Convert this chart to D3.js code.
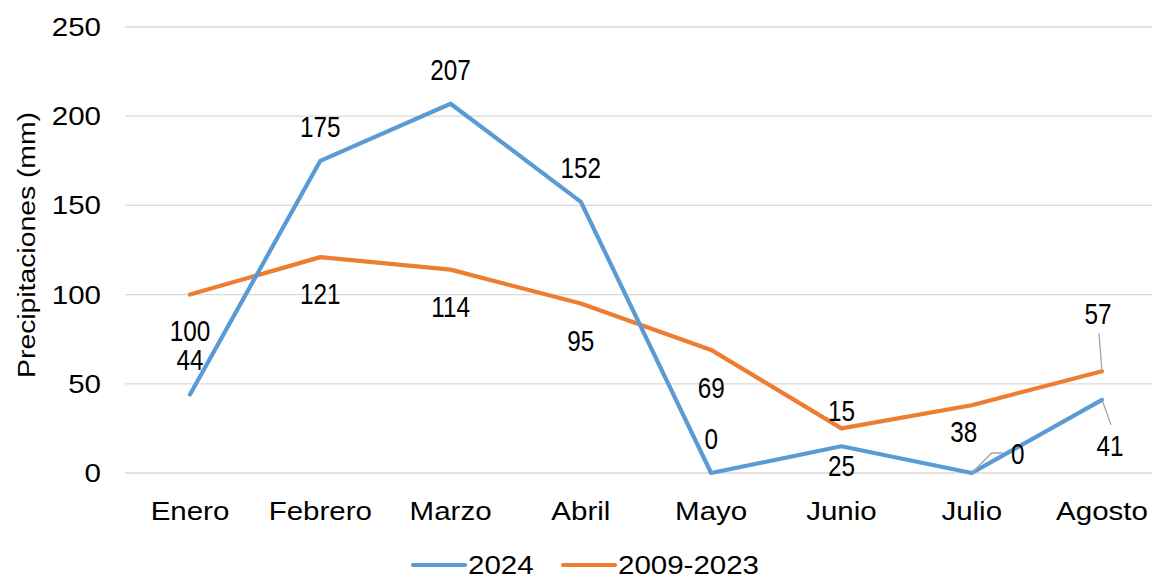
<!DOCTYPE html>
<html><head><meta charset="utf-8">
<script src="https://cdn.jsdelivr.net/npm/d3@7"></script>
<style>body{margin:0;background:#fff}svg{display:block}</style>
</head><body><svg id="c" width="1152" height="575"></svg>
<script>
const months = ["Enero","Febrero","Marzo","Abril","Mayo","Junio","Julio","Agosto"];
const rain2024 = [44,175,207,152,0,15,0,41];
const rainAvg = [100,121,114,95,69,25,38,57];
const yTicks = [0,50,100,150,200,250];
const seriesNames = ["2024","2009-2023"];

// label layout (dx, dy from point; third item = leader line)
const lab2024 = [[0,-35],[0,-35],[0,-35],[0,-35],[0,-35],[0,-36],[46,-20,1],[8,45,1]];
const labAvg  = [[0,36],[0,36],[0,36.5],[0,37],[0,37],[0,37],[-8,26],[-4,-58,1]];

const svg = d3.select("#c");
const x = d3.scalePoint().domain(months).range([190,1102]);
const y = d3.scaleLinear().domain([0,250]).range([473,27]);
const gridX0 = 125, gridX1 = 1152;
const font = "'Liberation Sans', Arial, sans-serif";

// text helper: stretched text like the reference
function txt(g, px, py, s, opt){
  const o = Object.assign({size:25, sx:1.18, anchor:"middle", rot:0}, opt||{});
  return g.append("text")
    .attr("transform",`translate(${px},${py}) rotate(${o.rot}) scale(${o.sx},1)`)
    .attr("dy","0.36em").attr("text-anchor",o.anchor)
    .attr("font-family",font).attr("font-size",o.size).attr("fill","#000").text(s);
}

svg.append("g").selectAll("line").data(yTicks).join("line")
  .attr("x1",gridX0).attr("x2",gridX1).attr("y1",d=>y(d)).attr("y2",d=>y(d))
  .attr("stroke","#d9d9d9").attr("stroke-width",1.3);
const gy = svg.append("g");
yTicks.forEach(d=>txt(gy,101,y(d),d,{anchor:"end"}));
const gx = svg.append("g");
months.forEach(m=>txt(gx,x(m),511,m));
txt(svg,26,245,"Precipitaciones (mm)",{size:24,sx:1.18,rot:-90});

const colors = ["#5B9BD5","#ED7D31"];
const line = d3.line().x((d,i)=>x(months[i])).y(d=>y(d));
[[rainAvg,colors[1]],[rain2024,colors[0]]].forEach(([s,c])=>{
  svg.append("path").datum(s).attr("d",line).attr("fill","none")
    .attr("stroke",c).attr("stroke-width",4.2)
    .attr("stroke-linejoin","round").attr("stroke-linecap","round");
});

function labels(s, lay){
  s.forEach((v,i)=>{
    const px = x(months[i]), py = y(v);
    const [dx,dy,lead] = lay[i];
    if(lead){
      let pts;
      if(dx>20) pts=[[px,py],[px+20,py+dy],[px+31,py+dy]];
      else if(dy<0) pts=[[px,py],[px-3,py+dy+20]];
      else pts=[[px,py],[px+9,py+dy-20]];
      svg.append("path").attr("d",d3.line()(pts)).attr("fill","none").attr("stroke","#a6a6a6").attr("stroke-width",1.3);
    }
    txt(svg, px+dx, py+dy, v, {size:30, sx:0.81});
  });
}
labels(rain2024, lab2024);
labels(rainAvg, labAvg);

const leg = [[413,seriesNames[0],colors[0]],[563,seriesNames[1],colors[1]]];
leg.forEach(([lx,name,c])=>{
  svg.append("line").attr("x1",lx).attr("x2",lx+52).attr("y1",565).attr("y2",565)
    .attr("stroke",c).attr("stroke-width",4.2).attr("stroke-linecap","round");
  txt(svg, lx+55, 565, name, {anchor:"start"});
});
</script></body></html>
